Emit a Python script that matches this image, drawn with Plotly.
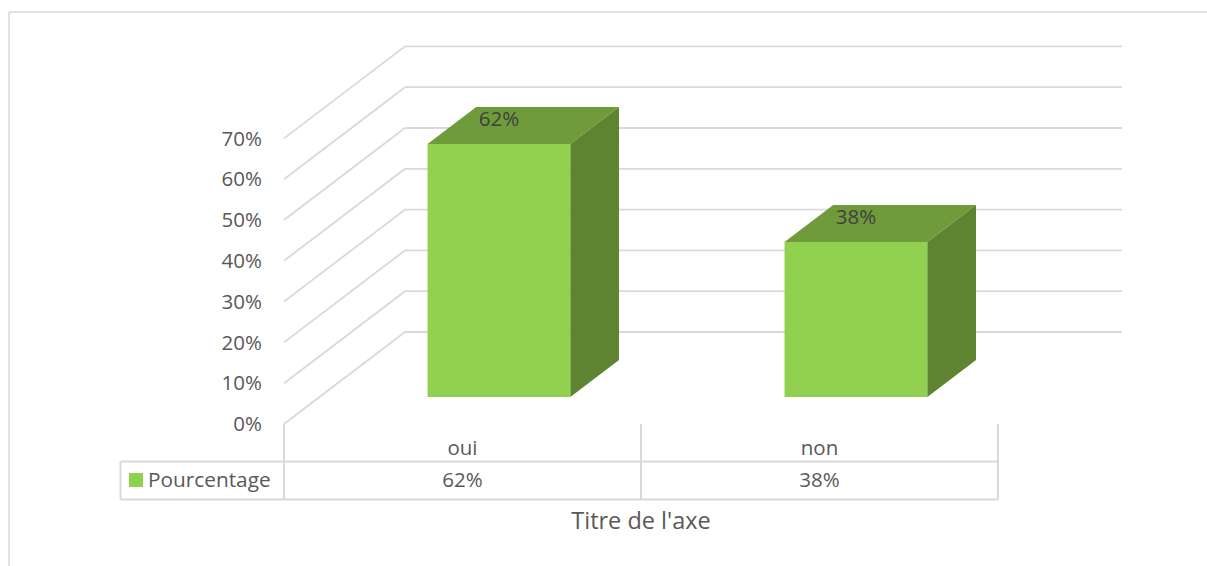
import plotly.graph_objects as go

categories = ["oui", "non"]
series_name = "Pourcentage"
values = [62, 38]
y_ticks = [0, 10, 20, 30, 40, 50, 60, 70]
y_tick_labels = ["0%", "10%", "20%", "30%", "40%", "50%", "60%", "70%"]
value_labels = ["62%", "38%"]
x_title = "Titre de l'axe"

W, H = 1207, 566
X0, CAT = 462.5, 357.0      # pixel centre of first category, pixels per category
Y0, PCT = 424.0, 4.08       # pixel of 0 %, pixels per percent
DEPTH_X, DEPTH_Y = 121 / CAT, 92 / PCT   # oblique projection of the full depth
BAR_NEAR, BAR_FAR = 0.293, 0.695          # bar depth span, fraction of the full depth
BAR_NUDGE = 1 / CAT
HALF = 0.2
LEFT = -0.5
GREY, TXT = "#d9d9d9", "#595959"
FONT = "Open Sans"
FS = 20.5


def px_x(p):
    return (p - X0) / CAT


def pct_y(p):
    return (Y0 - p) / PCT


xs = list(range(len(categories)))
fig = go.Figure()

# front faces
near_x, near_y = DEPTH_X * BAR_NEAR + BAR_NUDGE, DEPTH_Y * BAR_NEAR
far_x, far_y = DEPTH_X * BAR_FAR + BAR_NUDGE, DEPTH_Y * BAR_FAR
fig.add_trace(go.Bar(
    x=[i + near_x for i in xs], y=values, base=[near_y] * len(values), width=2 * HALF,
    marker=dict(color="#92d050", line=dict(width=0)), name=series_name, showlegend=False,
))

# top and side faces
for i, v in zip(xs, values):
    l, r = i + near_x - HALF, i + near_x + HALF
    dx, dy = far_x - near_x, far_y - near_y
    t, b = near_y + v, near_y
    fig.add_trace(go.Scatter(
        x=[l, r, r + dx, l + dx, l], y=[t, t, t + dy, t + dy, t],
        mode="lines", fill="toself", fillcolor="#6f9b3b", line=dict(width=0), showlegend=False,
    ))
    fig.add_trace(go.Scatter(
        x=[r, r + dx, r + dx, r, r], y=[t, t + dy, b + dy, b, t],
        mode="lines", fill="toself", fillcolor="#5f8431", line=dict(width=0), showlegend=False,
    ))

# data labels on the top faces
fig.add_trace(go.Scatter(
    x=[i + near_x for i in xs], y=[v + near_y + 5.7 for v in values],
    mode="text", text=value_labels, textposition="middle center",
    textfont=dict(family=FONT, size=FS, color="#404040"), showlegend=False,
))

# data table values
fig.add_trace(go.Scatter(
    x=xs, y=[pct_y(482)] * len(xs), mode="text", text=value_labels,
    textposition="middle center", textfont=dict(family=FONT, size=FS, color=TXT), showlegend=False,
))

# data table legend key and name
fig.add_trace(go.Scatter(
    x=[px_x(136)], y=[pct_y(480)], mode="markers",
    marker=dict(symbol="square", size=14, color="#92d050"), showlegend=False,
))
fig.add_trace(go.Scatter(
    x=[px_x(148)], y=[pct_y(482)], mode="text", text=[series_name],
    textposition="middle right", textfont=dict(family=FONT, size=20.8, color=TXT), showlegend=False,
))

shapes = []


def seg(x0, y0, x1, y1, width=1.8):
    shapes.append(dict(type="line", xref="x", yref="y", x0=x0, y0=y0, x1=x1, y1=y1,
                       line=dict(color=GREY, width=width), layer="below"))


# wall grid lines
for t in y_ticks:
    seg(LEFT, t, LEFT + DEPTH_X, t + DEPTH_Y)
    seg(LEFT + DEPTH_X, t + DEPTH_Y, px_x(1122), t + DEPTH_Y)

# data table rules
top, bot = pct_y(461.5), pct_y(499.5)
seg(px_x(120.5), top, 1.5, top, 2)
seg(px_x(120.5), bot, 1.5, bot, 2)
seg(px_x(120.5), top, px_x(120.5), bot, 2)
for x in (-0.5, 0.5, 1.5):
    seg(x, 0, x, bot, 2)

# chart area border
for a in [(9 / W, 1 - 12 / H, 1, 1 - 12 / H), (9 / W, 1 - 12 / H, 9 / W, 0)]:
    shapes.append(dict(type="line", xref="paper", yref="paper", x0=a[0], y0=a[1], x1=a[2], y1=a[3],
                       line=dict(color=GREY, width=1.5), layer="below"))

fig.update_layout(
    width=W, height=H, margin=dict(l=0, r=0, t=0, b=0, pad=0, autoexpand=False),
    paper_bgcolor="white", plot_bgcolor="white", shapes=shapes, showlegend=False,
    xaxis=dict(
        domain=[75 / W, 1], range=[px_x(75), px_x(W)], anchor="free", position=(H - Y0) / H,
        tickmode="array", tickvals=xs, ticktext=categories, ticks="", showgrid=False,
        zeroline=False, showline=False, ticklabelstandoff=9,
        tickfont=dict(family=FONT, size=FS, color=TXT),
        title=dict(text=x_title, font=dict(family=FONT, size=23.5, color=TXT), standoff=53),
        automargin=False,
    ),
    yaxis=dict(
        domain=[0, 1], range=[pct_y(H), pct_y(0)], anchor="free", position=284 / W,
        tickmode="array", tickvals=y_ticks, ticktext=y_tick_labels, ticks="", showgrid=False,
        zeroline=False, showline=False, ticklabelstandoff=22,
        tickfont=dict(family=FONT, size=FS, color=TXT), automargin=False,
    ),
)

fig.write_html("out.html", config={"displayModeBar": False},
               post_script="document.body.style.margin='0';document.body.style.overflow='hidden';")
